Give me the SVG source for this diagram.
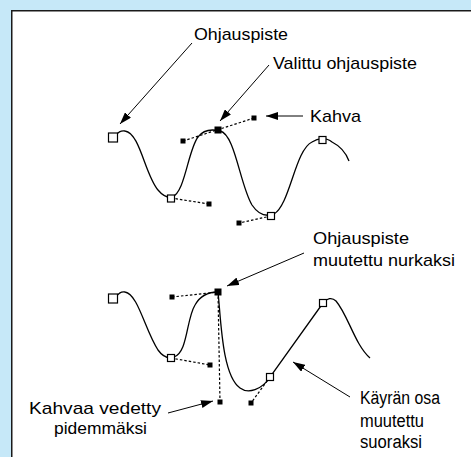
<svg xmlns="http://www.w3.org/2000/svg" width="471" height="457" viewBox="0 0 471 457">
<defs>
<marker id="ah" markerWidth="12" markerHeight="8" refX="12" refY="4" orient="auto" markerUnits="userSpaceOnUse">
<path d="M0,0 L12,4 L0,8 Z" fill="#000"/>
</marker>
<style>
.lbl{font-family:"Liberation Sans",Arial,sans-serif;font-size:17px;fill:#000}
.big{font-size:18px}
.curve{fill:none;stroke:#000;stroke-width:1.3}
.handle{fill:none;stroke:#000;stroke-width:1.2;stroke-dasharray:2.5,2}
.arrow{fill:none;stroke:#000;stroke-width:1;marker-end:url(#ah)}
.open{fill:#fff;stroke:#000;stroke-width:1.2}
.sel{fill:#000}
</style>
</defs>
<rect x="0" y="0" width="471" height="457" fill="#c6e8f8"/>
<rect x="11.75" y="10.75" width="480" height="460" fill="#fff" stroke="#1a1a1a" stroke-width="1.5"/>

<g id="connectors">
<line class="arrow" x1="192" y1="43" x2="120" y2="124"/>
<line class="arrow" x1="269" y1="65" x2="220" y2="121"/>
<line class="arrow" x1="303" y1="116" x2="266" y2="116"/>
<line class="arrow" x1="304" y1="253" x2="227" y2="286"/>
<line class="arrow" x1="168" y1="413" x2="213" y2="401"/>
<line class="arrow" x1="350" y1="397" x2="293" y2="362"/>
</g>

<g id="curve-top">
<path class="curve" d="M116,135 Q120,130 125,131 C140,133 145,175 158,190 C163,196 167,198 172,197 C185,193 188,150 198,137 C204,129 212,129 220,131 C235,134 240,185 252,205 C258,214 266,217 274,214 C290,205 295,150 312,142 C318,138 326,137 332,142 C340,146 346,153 349,161"/>
<path class="handle" d="M183,141 L254,118"/>
<path class="handle" d="M171,198 L209,204"/>
<path class="handle" d="M271,216 L239,223"/>
</g>

<g id="curve-bottom">
<path class="curve" d="M116,297 Q120,291 125,292 C138,294 145,330 158,350 C163,357 168,359 174,357 C188,352 186,320 195,305 C200,296 207,292 218,292 C221,320 222,375 240,388 C248,394 262,390 270,377 L323,303 C327,298 332,297 336,301 C348,315 355,345 370,358"/>
<path class="handle" d="M172,297 L218,292"/>
<path class="handle" d="M171,358 L210,365"/>
<path class="handle" d="M218,292 L220,402"/>
<path class="handle" d="M270,377 L251,403"/>
</g>

<g id="node-ohjauspiste-top">
<rect class="open" x="108.5" y="133" width="9" height="9"/>
<text class="lbl" x="194" y="40" textLength="94" lengthAdjust="spacingAndGlyphs">Ohjauspiste</text>
</g>
<g id="node-valittu">
<rect class="sel" x="214.5" y="126.5" width="7" height="7"/>
<text class="lbl" x="273" y="69" textLength="144" lengthAdjust="spacingAndGlyphs">Valittu ohjauspiste</text>
</g>
<g id="node-kahva">
<rect class="sel" x="251.5" y="115.5" width="5" height="5"/>
<rect class="sel" x="180.5" y="138.5" width="5" height="5"/>
<text class="lbl" x="310" y="122" textLength="51" lengthAdjust="spacingAndGlyphs">Kahva</text>
</g>
<g id="node-top-points">
<rect class="open" x="167.5" y="195" width="7" height="7"/>
<rect class="sel" x="206.5" y="201.5" width="5" height="5"/>
<rect class="open" x="267.5" y="212.5" width="7" height="7"/>
<rect class="sel" x="236.5" y="220.5" width="5" height="5"/>
<rect class="open" x="319" y="136.5" width="7" height="7"/>
</g>

<g id="node-bottom-points">
<rect class="open" x="108.5" y="294" width="9" height="9"/>
<rect class="sel" x="169.5" y="294.5" width="5" height="5"/>
<rect class="open" x="167.5" y="354.5" width="7" height="7"/>
<rect class="sel" x="207.5" y="362.5" width="5" height="5"/>
<rect class="open" x="266.5" y="373.5" width="7" height="7"/>
<rect class="sel" x="248.5" y="400.5" width="5" height="5"/>
<rect class="open" x="319.5" y="299.5" width="7" height="7"/>
</g>
<g id="node-nurkka">
<rect class="sel" x="214.5" y="288.5" width="7" height="7"/>
<text class="lbl" x="313" y="244" textLength="96" lengthAdjust="spacingAndGlyphs">Ohjauspiste</text>
<text class="lbl" x="313" y="266" textLength="142" lengthAdjust="spacingAndGlyphs">muutettu nurkaksi</text>
</g>
<g id="node-kahvaa-vedetty">
<rect class="sel" x="217.5" y="399.5" width="5" height="5"/>
<text class="lbl" x="29" y="414" textLength="132" lengthAdjust="spacingAndGlyphs">Kahvaa vedetty</text>
<text class="lbl" x="54" y="434" textLength="93" lengthAdjust="spacingAndGlyphs">pidemmäksi</text>
</g>
<g id="node-kayran-osa">
<text class="lbl big" x="360" y="404" textLength="80" lengthAdjust="spacingAndGlyphs">Käyrän osa</text>
<text class="lbl big" x="360" y="427" textLength="64" lengthAdjust="spacingAndGlyphs">muutettu</text>
<text class="lbl big" x="360" y="448" textLength="62" lengthAdjust="spacingAndGlyphs">suoraksi</text>
</g>
</svg>
